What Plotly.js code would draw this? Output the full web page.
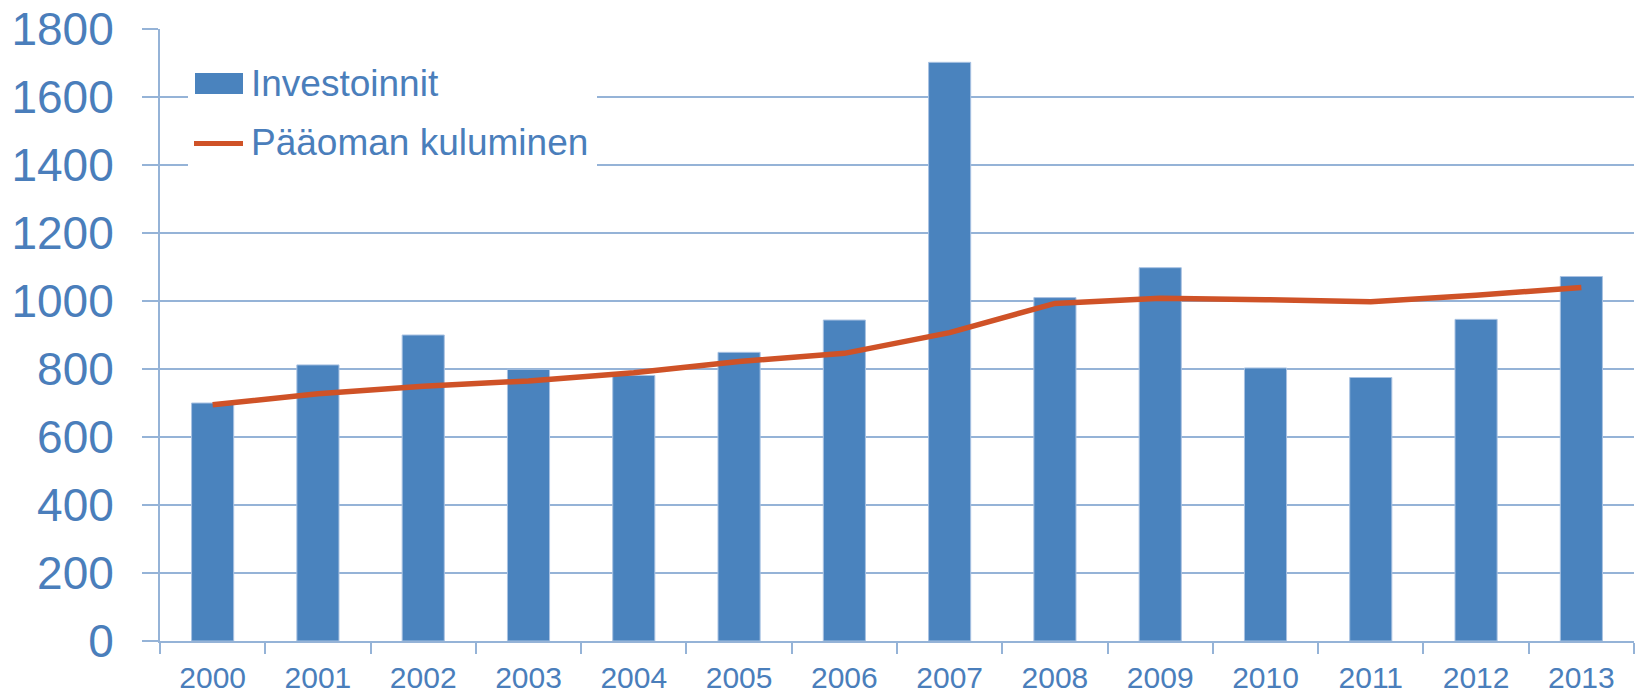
<!DOCTYPE html>
<html>
<head>
<meta charset="utf-8">
<script src="https://cdn.plot.ly/plotly-3.0.1.min.js"></script>
<style>html,body{margin:0;padding:0;background:#fff;}#chart{width:1636px;height:699px;}</style>
</head>
<body>
<div id="chart"></div>
<script>
var years = ['2000','2001','2002','2003','2004','2005','2006','2007','2008','2009','2010','2011','2012','2013'];
var investoinnit = [700, 812, 900, 799, 781, 849, 944, 1702, 1010, 1098, 803, 775, 946, 1072];
var kuluminen = [695, 727, 749, 765, 789, 822, 846, 907, 993, 1008, 1004, 998, 1017, 1040];
var yTicks = [0, 200, 400, 600, 800, 1000, 1200, 1400, 1600, 1800];
var seriesNames = ['Investoinnit', 'Pääoman kuluminen'];

var txtColor = '#4A7EBB';
var gridColor = '#95B3D7';
var barColor = '#4A83BE';
var lineColor = '#CF5227';
var font = 'Liberation Sans, Arial, sans-serif';

var traces = [
  {
    type: 'bar', x: years, y: investoinnit, name: seriesNames[0],
    marker: {color: barColor, line: {color: '#A9C2E2', width: 1}},
    width: 0.4, showlegend: false, hoverinfo: 'x+y'
  },
  {
    type: 'scatter', mode: 'lines', x: years, y: kuluminen, name: seriesNames[1],
    line: {color: lineColor, width: 5.5}, showlegend: false
  }
];

var layout = {
  width: 1636, height: 699,
  margin: {l: 160, r: 2, t: 29, b: 58, pad: 0},
  paper_bgcolor: '#ffffff', plot_bgcolor: '#ffffff',
  font: {family: font, color: txtColor},
  xaxis: {
    type: 'category', showgrid: false, zeroline: false,
    showline: true, linecolor: gridColor, linewidth: 2,
    ticks: 'outside', tickson: 'boundaries', ticklen: 11, tickwidth: 2, tickcolor: gridColor,
    tickfont: {size: 30, color: txtColor, family: font},
    ticklabelstandoff: 9
  },
  yaxis: {
    range: [0, 1800], tickvals: yTicks, ticktext: yTicks.map(String),
    showgrid: true, gridcolor: gridColor, gridwidth: 2, zeroline: false,
    showline: true, linecolor: gridColor, linewidth: 2,
    ticks: 'outside', ticklen: 16, tickwidth: 2, tickcolor: gridColor,
    tickfont: {size: 46, color: txtColor, family: font},
    ticklabelstandoff: 19
  },
  shapes: [
    {type: 'rect', xref: 'paper', yref: 'paper', layer: 'above',
     x0: (188-160)/1474, x1: (597-160)/1474, y0: (641-180)/612, y1: (641-45)/612,
     fillcolor: '#ffffff', line: {width: 0}},
    {type: 'rect', xref: 'paper', yref: 'paper', layer: 'above',
     x0: (195-160)/1474, x1: (243-160)/1474, y0: (641-94)/612, y1: (641-73)/612,
     fillcolor: barColor, line: {width: 0}},
    {type: 'line', xref: 'paper', yref: 'paper', layer: 'above',
     x0: (194-160)/1474, x1: (243-160)/1474, y0: (641-143.5)/612, y1: (641-143.5)/612,
     line: {color: lineColor, width: 5}}
  ],
  annotations: [
    {xref: 'paper', yref: 'paper', x: (249-160)/1474, y: (641-83)/612, xanchor: 'left', yanchor: 'middle',
     text: seriesNames[0], showarrow: false, font: {size: 37, color: txtColor, family: font}},
    {xref: 'paper', yref: 'paper', x: (249-160)/1474, y: (641-142)/612, xanchor: 'left', yanchor: 'middle',
     text: seriesNames[1], showarrow: false, font: {size: 37, color: txtColor, family: font}}
  ],
  showlegend: false,
  bargap: 0.6
};

Plotly.newPlot('chart', traces, layout, {displayModeBar: false, staticPlot: true});
</script>
</body>
</html>
